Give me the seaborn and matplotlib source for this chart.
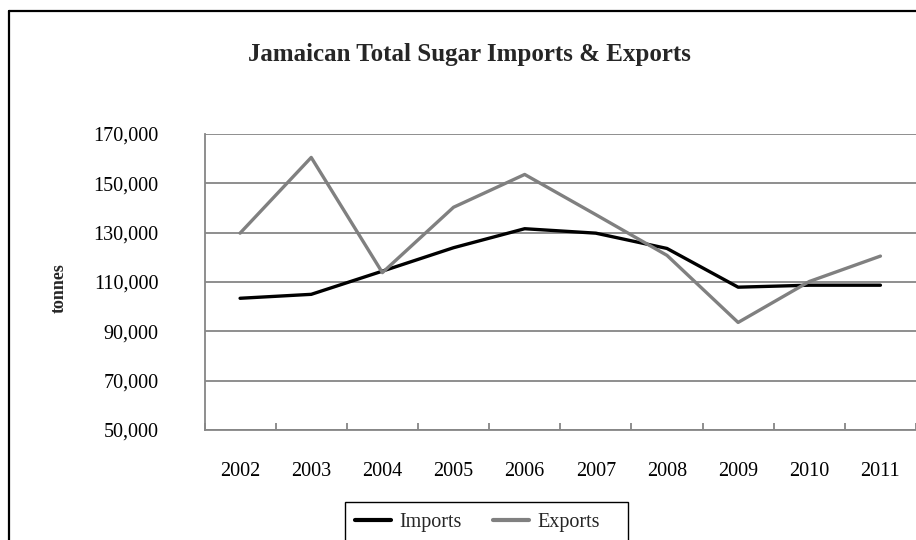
import numpy as np
import pandas as pd
import matplotlib
matplotlib.use("Agg")
import matplotlib.pyplot as plt
from matplotlib.lines import Line2D
from matplotlib.patches import Rectangle
from matplotlib.ticker import FuncFormatter, FixedLocator
import seaborn as sns

# Jamaican sugar trade, tonnes per year
years = [2002, 2003, 2004, 2005, 2006, 2007, 2008, 2009, 2010, 2011]
imports = [103400, 105000, 114400, 123900, 131600, 129800, 123600, 107900, 108700, 108700]
exports = [129800, 160500, 113800, 140300, 153600, 137300, 120800, 93600, 110200, 120500]
series_names = ["Imports", "Exports"]
y_ticks = [50000, 70000, 90000, 110000, 130000, 150000, 170000]

df = pd.DataFrame({
    "year": years * 2,
    "tonnes": imports + exports,
    "series": [series_names[0]] * len(years) + [series_names[1]] * len(years),
})

sns.set_theme(style="white")
plt.rcParams["font.family"] = ["Liberation Serif", "DejaVu Serif"]

W, H = 916, 540
fig = plt.figure(figsize=(W / 100, H / 100), dpi=100)
fig.patch.set_facecolor("white")

# plot area in pixel coordinates
left, right, top, bottom = 204.5, 916, 134, 430
ax = fig.add_axes([left / W, 1 - bottom / H, (right - left) / W, (bottom - top) / H])

grid_c = "#868686"
palette = {"Imports": "#000000", "Exports": "#808080"}

sns.lineplot(data=df, x="year", y="tonnes", hue="series", palette=palette,
             linewidth=2.4, ax=ax, legend=False, sort=False)

ax.set_xlim(years[0] - 0.5, years[-1] + 0.5)
ax.set_ylim(y_ticks[0], y_ticks[-1])
ax.set_yticks(y_ticks)
ax.yaxis.set_major_formatter(FuncFormatter(lambda v, p: f"{int(v):,}"))
ax.set_xticks(years)
ax.set_xticklabels([str(y) for y in years])
ax.xaxis.set_minor_locator(FixedLocator([y - 0.5 for y in years] + [years[-1] + 0.5]))

ax.grid(axis="y", color=grid_c, linewidth=1.3)
ax.set_axisbelow(True)
for s in ["top", "right"]:
    ax.spines[s].set_visible(False)
for s in ["left", "bottom"]:
    ax.spines[s].set_color(grid_c)
    ax.spines[s].set_linewidth(1.3)

ax.tick_params(axis="y", which="major", direction="out", length=4, width=1.3,
               color=grid_c, labelsize=14.5, pad=29, labelcolor="black")
ax.tick_params(axis="x", which="major", length=0, labelsize=14.5, pad=23,
               labelcolor="black")
ax.tick_params(axis="x", which="minor", direction="in", length=5, width=1.3,
               color=grid_c, bottom=True)

ax.set_xlabel("")
ax.set_ylabel("")
fig.text(59 / W, 1 - 288 / H, "tonnes", rotation=90, ha="center", va="center",
         fontsize=13, fontweight="bold")

fig.text(469 / W, 1 - 54 / H, "Jamaican Total Sugar Imports & Exports",
         ha="center", va="center", fontsize=18, fontweight="bold")

# outer chart frame
fig.add_artist(Line2D([9 / W, 9 / W], [-0.05, 1 - 11 / H], color="black",
                      linewidth=1.6, transform=fig.transFigure))
fig.add_artist(Line2D([9 / W, 1.05], [1 - 11 / H, 1 - 11 / H], color="black",
                      linewidth=1.6, transform=fig.transFigure))

# legend entries and its box
handles = [Line2D([], [], color=palette[n], linewidth=3) for n in series_names]
leg = fig.legend(handles, series_names, loc="center",
                 bbox_to_anchor=(477.5 / W, 1 - 522 / H), ncol=2,
                 fontsize=14.5, frameon=False,
                 handlelength=1.8, handletextpad=0.4, columnspacing=1.55,
                 borderpad=0.0, borderaxespad=0)
fig.add_artist(Rectangle((345 / W, 1 - 546 / H), (628 - 345) / W, (546 - 502) / H,
                         transform=fig.transFigure, facecolor="none",
                         edgecolor="black", linewidth=1.0, clip_on=False))

fig.savefig("out.png", dpi=100)
